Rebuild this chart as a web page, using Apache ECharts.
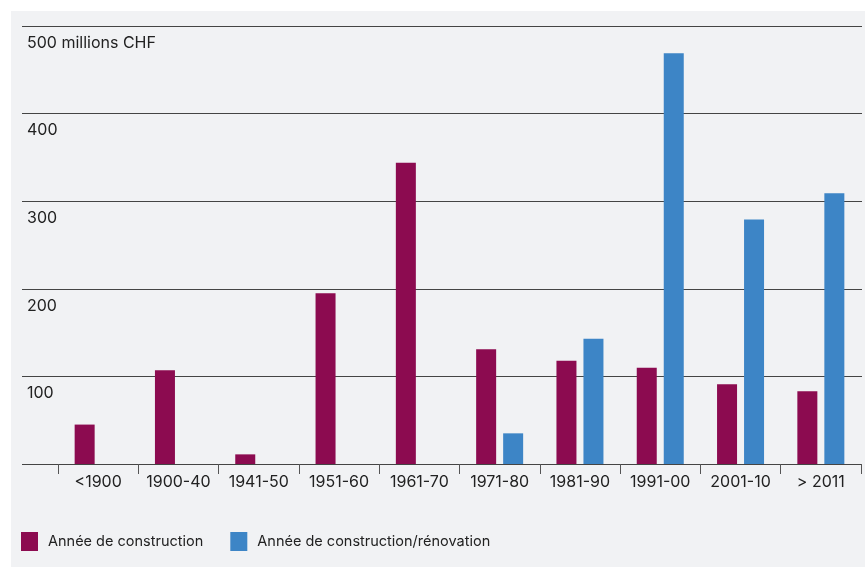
<!DOCTYPE html>
<html><head><meta charset="utf-8">
<script src="https://cdn.jsdelivr.net/npm/echarts@6/dist/echarts.min.js"></script>
<style>
html,body{margin:0;padding:0;background:#fff;}
#bg{position:absolute;left:11px;top:11px;width:854px;height:556px;background:#f1f2f4;}
#c{position:absolute;left:0;top:0;width:865px;height:567px;}
</style></head>
<body><div id="bg"></div><div id="c"></div>
<script>
const categories = ['<1900','1900-40','1941-50','1951-60','1961-70','1971-80','1981-90','1991-00','2001-10','> 2011'];
const construction = [45,107,11,195,344,131,118,110,91,83];
const renovation = [null,null,null,null,null,35,143,469,279,309];
const yTicks = [0,100,200,300,400,500];
const seriesNames = ['Année de construction','Année de construction/rénovation'];

const font = 'Inter, "Liberation Sans", sans-serif';
const chart = echarts.init(document.getElementById('c'), null, {renderer:'canvas'});
chart.setOption({
  backgroundColor: 'transparent',
  textStyle:{fontFamily:font},
  grid:[
    {left:22,right:3,top:26,bottom:103},
    {left:58,right:4,top:26,bottom:103}
  ],
  xAxis:[
    {gridIndex:0,type:'value',min:0,max:1,show:false},
    {gridIndex:1,type:'category',data:categories,boundaryGap:true,
     axisLine:{show:true,lineStyle:{color:'#444',width:1}},
     axisTick:{show:true,interval:0,length:10,lineStyle:{color:'#555'}},
     axisLabel:{interval:0,hideOverlap:false,color:'#222',fontSize:16,margin:10,fontFamily:font}}
  ],
  yAxis:[
    {gridIndex:0,type:'value',min:yTicks[0],max:yTicks[yTicks.length-1],interval:100,
     axisLine:{show:false},axisTick:{show:false},
     splitLine:{show:true,lineStyle:{color:'#444',width:1.2}},
     axisLabel:{inside:true,margin:5,align:'left',verticalAlign:'top',padding:[9,0,0,0],
       color:'#222',fontSize:16,fontFamily:font,
       formatter:function(v){ if(v===0) return ''; if(v===500) return '500 millions CHF'; return String(v);} }},
    {gridIndex:1,type:'value',min:0,max:500,interval:100,show:false,splitLine:{show:false}}
  ],
  legend:{
    left:21,top:532,padding:0,itemWidth:17,itemHeight:19,itemGap:27,
    icon:'rect',
    textStyle:{color:'#222',fontSize:14.5,fontFamily:font,padding:[0,0,0,5]},
    data:seriesNames
  },
  series:[
    {name:seriesNames[0],type:'bar',xAxisIndex:1,yAxisIndex:1,data:construction,
     barWidth:20,barGap:'35%',itemStyle:{color:'#8c0b50'}},
    {name:seriesNames[1],type:'bar',xAxisIndex:1,yAxisIndex:1,data:renovation,
     barWidth:20,barGap:'35%',itemStyle:{color:'#3d85c6'}}
  ]
});
</script></body></html>
